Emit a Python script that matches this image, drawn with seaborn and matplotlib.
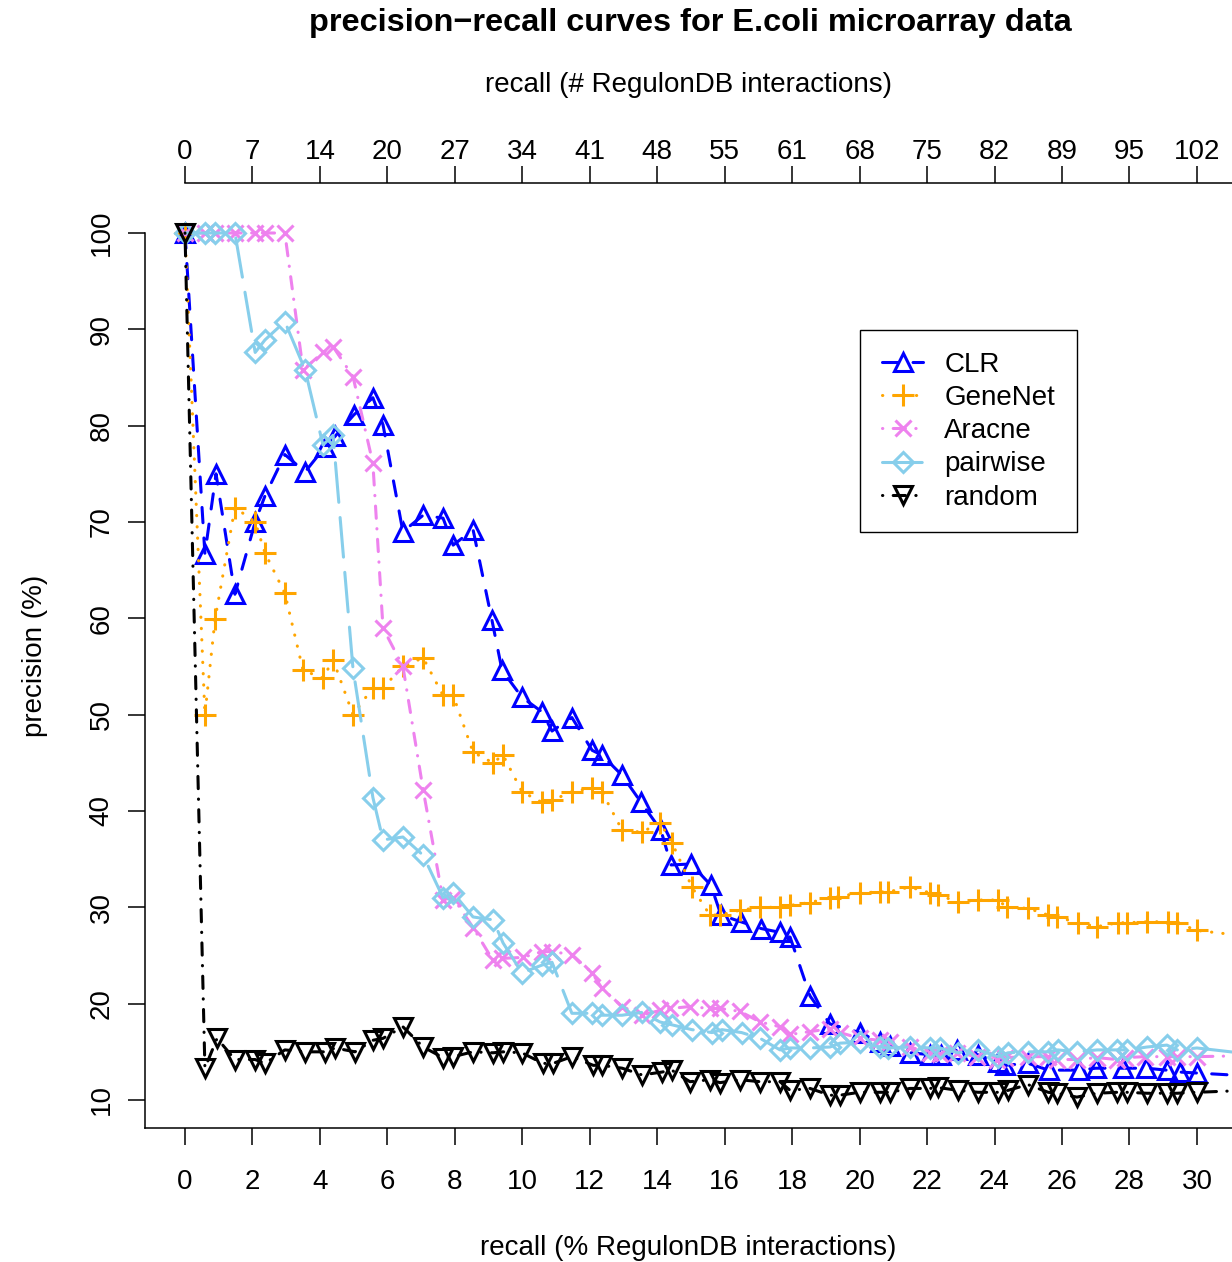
import numpy as np
import pandas as pd
import matplotlib
matplotlib.use("Agg")
import matplotlib.pyplot as plt
import seaborn as sns

# ---------------- data ----------------
methods = ["CLR", "GeneNet", "Aracne", "pairwise", "random"]

clr_recall = [0, 0.59, 0.92, 1.48, 2.08, 2.37, 2.96, 3.56, 4.15, 4.45,
              5.00, 5.57, 5.87, 6.46, 7.06, 7.65, 7.95, 8.54, 9.10, 9.40,
              9.99, 10.58, 10.88, 11.47, 12.07, 12.36, 12.96, 13.52, 14.11, 14.41,
              15.00, 15.59, 15.89, 16.48, 17.08, 17.64, 17.94, 18.53, 19.12, 20.00,
              20.60, 20.90, 21.50, 22.10, 22.40, 22.90, 23.50, 24.10, 24.30, 25.00,
              25.60, 26.50, 27.00, 27.80, 28.50, 29.10, 29.50, 30.00, 31.50]
clr_precision = [100, 66.7, 75.0, 62.5, 70.0, 72.7, 77.0, 75.2, 77.8, 78.9,
                 81.1, 82.9, 80.1, 69.0, 70.7, 70.4, 67.6, 69.2, 59.8, 54.6,
                 51.8, 50.3, 48.3, 49.7, 46.3, 45.8, 43.7, 40.9, 38.0, 34.4,
                 34.5, 32.3, 29.2, 28.5, 27.8, 27.4, 26.9, 20.8, 17.9, 17.0,
                 16.0, 15.6, 14.9, 14.7, 14.7, 15.2, 14.7, 13.9, 13.6, 13.8,
                 13.1, 13.1, 13.3, 13.3, 13.3, 13.1, 12.9, 12.8, 12.5]

genenet_recall = [0, 0.59, 0.89, 1.48, 2.08, 2.37, 2.96, 3.50, 4.09, 4.39,
                  4.98, 5.57, 5.87, 6.46, 7.06, 7.65, 7.95, 8.54, 9.13, 9.43,
                  9.99, 10.58, 10.88, 11.47, 12.07, 12.36, 12.96, 13.55, 14.08, 14.44,
                  15.03, 15.56, 15.86, 16.45, 17.05, 17.64, 17.94, 18.53, 19.12, 19.36,
                  20.00, 20.60, 20.84, 21.49, 22.09, 22.32, 22.92, 23.51, 24.10, 24.37,
                  24.99, 25.59, 25.85, 26.47, 27.04, 27.66, 27.93, 28.52, 29.14, 29.41,
                  30.00, 31.50]
genenet_precision = [100, 50.0, 59.9, 71.5, 70.0, 66.8, 62.6, 54.6, 53.8, 55.7,
                     50.0, 52.8, 52.8, 55.0, 55.9, 52.0, 52.0, 46.1, 45.0, 45.8,
                     42.0, 40.9, 41.1, 42.0, 42.4, 42.0, 38.0, 37.8, 38.8, 36.7,
                     32.1, 29.2, 29.2, 29.7, 30.0, 30.0, 30.2, 30.5, 31.0, 31.1,
                     31.5, 31.6, 31.6, 32.1, 31.5, 31.3, 30.55, 30.76, 30.76, 30.0,
                     29.9, 29.2, 29.0, 28.4, 28.0, 28.4, 28.4, 28.5, 28.5, 28.4,
                     27.6, 27.0]

aracne_recall = [0, 0.59, 0.89, 1.48, 2.08, 2.37, 2.96, 3.50, 4.09, 4.39,
                 4.98, 5.57, 5.87, 6.46, 7.06, 7.65, 7.95, 8.54, 9.13, 9.40,
                 10.02, 10.58, 10.88, 11.47, 12.07, 12.36, 12.96, 13.55, 14.08, 14.38,
                 14.97, 15.56, 15.86, 16.45, 17.05, 17.64, 17.94, 18.53, 19.12, 19.42,
                 20.00, 20.60, 20.90, 21.49, 22.09, 22.38, 22.89, 23.48, 24.07, 24.31,
                 24.99, 25.58, 25.85, 26.44, 27.04, 27.63, 27.87, 28.46, 29.11, 29.41,
                 30.00, 31.50]
aracne_precision = [100, 100, 100, 100, 100, 100, 100, 85.8, 87.6, 88.2,
                    85.1, 76.1, 59.0, 55.0, 42.2, 30.8, 31.0, 27.9, 24.5, 24.7,
                    24.8, 25.4, 25.4, 25.1, 23.2, 21.6, 19.7, 18.8, 19.3, 19.5,
                    19.7, 19.5, 19.5, 19.2, 18.1, 17.6, 16.8, 17.1, 17.4, 17.0,
                    16.4, 16.2, 16.0, 15.5, 14.9, 14.8, 14.9, 14.5, 14.2, 14.4,
                    14.5, 14.5, 14.2, 14.2, 14.4, 14.2, 14.4, 14.5, 14.5, 14.5,
                    14.5, 14.6]

pairwise_recall = [0, 0.59, 0.89, 1.48, 2.08, 2.37, 2.96, 3.56, 4.09, 4.39,
                   4.98, 5.57, 5.87, 6.46, 7.06, 7.65, 7.95, 8.54, 9.13, 9.43,
                   9.99, 10.58, 10.88, 11.47, 12.07, 12.36, 12.96, 13.55, 14.08, 14.44,
                   15.03, 15.62, 15.92, 16.50, 17.05, 17.64, 17.94, 18.53, 19.12, 19.42,
                   20.00, 20.60, 20.84, 21.49, 22.09, 22.38, 22.92, 23.51, 24.10, 24.40,
                   24.99, 25.59, 25.88, 26.44, 27.04, 27.63, 27.93, 28.52, 29.11, 29.41,
                   30.00, 31.50]
pairwise_precision = [100, 100, 100, 100, 87.6, 88.9, 90.8, 85.8, 78.0, 79.0,
                      54.8, 41.4, 37.0, 37.3, 35.4, 31.0, 31.5, 29.0, 28.7, 26.3,
                      23.2, 24.0, 24.3, 19.0, 19.0, 18.8, 18.8, 19.1, 18.1, 17.8,
                      17.3, 17.0, 17.3, 17.0, 16.4, 15.2, 15.4, 15.4, 15.5, 15.9,
                      16.0, 15.5, 15.4, 15.5, 15.4, 15.4, 14.9, 15.2, 14.5, 14.9,
                      15.0, 15.0, 15.2, 15.0, 15.2, 15.2, 15.2, 15.5, 15.7, 15.2,
                      15.4, 14.8]

random_recall = [0, 0.59, 0.95, 1.48, 2.08, 2.37, 2.96, 3.56, 4.15, 4.45,
                 5.04, 5.57, 5.87, 6.46, 7.06, 7.65, 7.95, 8.54, 9.13, 9.43,
                 9.99, 10.61, 10.91, 11.47, 12.10, 12.36, 12.96, 13.55, 14.14, 14.43,
                 14.97, 15.56, 15.86, 16.45, 17.05, 17.64, 17.94, 18.53, 19.12, 19.42,
                 20.00, 20.60, 20.90, 21.49, 22.09, 22.32, 22.92, 23.51, 24.10, 24.40,
                 24.99, 25.59, 25.85, 26.44, 27.04, 27.63, 27.93, 28.52, 29.11, 29.41,
                 30.00, 31.50]
random_precision = [100, 13.3, 16.4, 14.2, 14.2, 13.8, 15.2, 15.0, 15.0, 15.4,
                    15.0, 16.2, 16.4, 17.6, 15.5, 14.4, 14.5, 15.0, 14.9, 15.0,
                    14.9, 13.8, 13.8, 14.5, 13.6, 13.6, 13.3, 12.6, 12.9, 13.1,
                    11.9, 12.1, 11.8, 12.1, 11.9, 11.9, 11.0, 11.2, 10.5, 10.5,
                    10.8, 10.8, 10.8, 11.2, 11.2, 11.3, 11.0, 10.8, 10.8, 11.0,
                    11.6, 10.8, 10.7, 10.3, 10.7, 10.8, 10.8, 10.7, 10.7, 10.7,
                    10.8, 11.0]

bottom_ticks = list(range(0, 31, 2))
top_tick_labels = ["0", "7", "14", "20", "27", "34", "41", "48", "55", "61",
                   "68", "75", "82", "89", "95", "102"]
y_ticks = list(range(10, 101, 10))

# ---------------- styling ----------------
sns.set_theme(style="ticks", rc={
    "axes.edgecolor": "black", "axes.labelcolor": "black", "text.color": "black",
    "xtick.color": "black", "ytick.color": "black", "axes.linewidth": 1.1,
})
plt.rcParams["font.family"] = ["Liberation Sans", "DejaVu Sans"]

series = {
    "CLR": (clr_recall, clr_precision),
    "GeneNet": (genenet_recall, genenet_precision),
    "Aracne": (aracne_recall, aracne_precision),
    "pairwise": (pairwise_recall, pairwise_precision),
    "random": (random_recall, random_precision),
}
style = {
    "CLR": dict(color="#0000FF", marker="^", ms=13, ls=(0, (5, 5))),
    "GeneNet": dict(color="#FFA500", marker="+", ms=16, ls=(0, (0.1, 3.6))),
    "Aracne": dict(color="#EE82EE", marker="x", ms=12, ls=(0, (0.1, 3.4, 4, 3.4))),
    "pairwise": dict(color="#87CEEB", marker="D", ms=10.5, ls=(0, (13, 5))),
    "random": dict(color="#000000", marker="v", ms=13, ls=(0, (0.1, 3.4, 4, 3.4))),
}

W, H = 1232, 1262
fig = plt.figure(figsize=(W / 100, H / 100), dpi=100)
ax_l, ax_r, ax_t, ax_b = 145, 1232, 183, 1128
ax = fig.add_axes([ax_l / W, 1 - ax_b / H, (ax_r - ax_l) / W, (ax_b - ax_t) / H])

handles = []
for m in methods:
    rec, prec = series[m]
    df = pd.DataFrame({"recall": rec, "precision": prec})
    st = style[m]
    sns.lineplot(data=df, x="recall", y="precision", ax=ax, estimator=None, sort=False,
                 color=st["color"], linewidth=2.2, linestyle=st["ls"],
                 marker=st["marker"], markersize=st["ms"], markeredgewidth=2.2,
                 markeredgecolor=st["color"], markerfacecolor="none",
                 dash_capstyle="round", solid_capstyle="round", legend=False)
    handles.append(ax.lines[-1])

ax.set_xlim(-1.186, 31.04)
ax.set_ylim(7.093, 105.19)
ax.spines["right"].set_visible(False)
ax.spines["top"].set_visible(False)
ax.spines["left"].set_bounds(7.093, 100)

ax.set_xticks(bottom_ticks)
ax.set_xticklabels([str(t) for t in bottom_ticks])
ax.set_yticks(y_ticks)
ax.set_yticklabels([str(t) for t in y_ticks])
ax.tick_params(axis="both", direction="out", length=12, width=1.1, labelsize=20)
ax.tick_params(axis="x", pad=17.5)
ax.tick_params(axis="y", pad=10, labelrotation=90)
for lbl in ax.get_yticklabels():
    lbl.set_va("center")

ax.set_xlabel("recall (% RegulonDB interactions)", fontsize=20, labelpad=29)
ax.set_ylabel("precision (%)", fontsize=20, labelpad=29)

sec = ax.secondary_xaxis("top")
sec.set_xticks(bottom_ticks)
sec.set_xticklabels(top_tick_labels)
sec.tick_params(direction="out", length=12, width=1.1, labelsize=20, pad=1)
sec.spines["top"].set_bounds(0, 31.04)
sec.spines["top"].set_linewidth(1.1)
sec.set_xlabel("recall (# RegulonDB interactions)", fontsize=20, labelpad=34)

fig.text(690 / W, 1 - 23 / H, "precision\u2212recall curves for E.coli microarray data",
         fontsize=23.4, fontweight="bold", ha="center", va="center")

leg = ax.legend(handles, methods, loc="upper left",
                bbox_to_anchor=(860 / W, 1 - 330 / H), bbox_transform=fig.transFigure,
                fontsize=20, frameon=True, fancybox=False, edgecolor="black",
                framealpha=1, borderaxespad=0, handlelength=1.5, handletextpad=0.75,
                labelspacing=0.26, borderpad=0.78, numpoints=1)
leg.get_frame().set_linewidth(1.0)

fig.savefig("out.png", dpi=100)
